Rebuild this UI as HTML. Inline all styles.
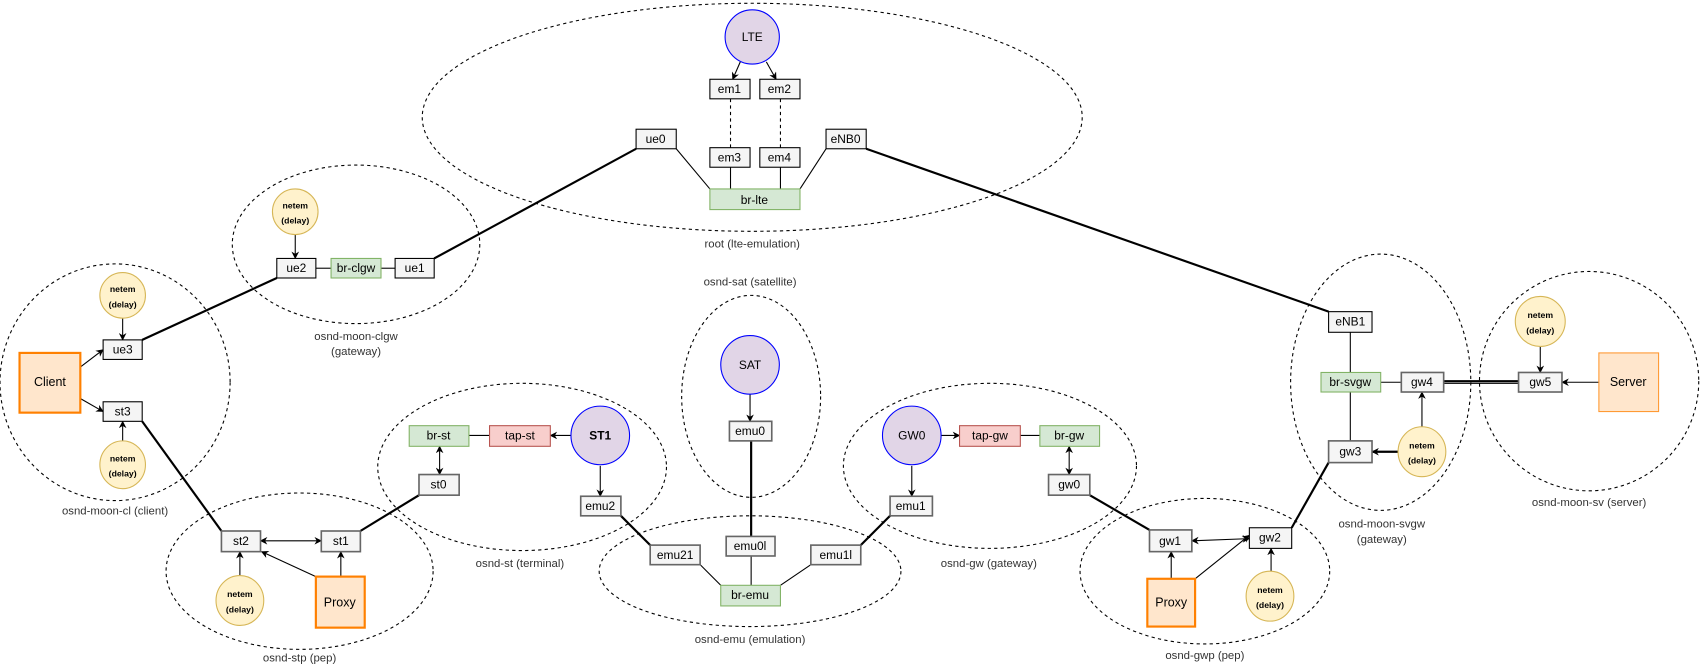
<!DOCTYPE html>
<html><head><meta charset="utf-8"><style>html,body{margin:0;padding:0;background:#fff;}svg{display:block}</style></head><body>
<svg width="1702" height="670" viewBox="0 0 1568 617" preserveAspectRatio="none" xmlns="http://www.w3.org/2000/svg" font-family="Liberation Sans, sans-serif">
<defs>
<marker id="a" viewBox="0 0 10 10" refX="9" refY="5" markerWidth="7" markerHeight="7" orient="auto-start-reverse" markerUnits="userSpaceOnUse"><path d="M0,0 L10,5 L0,10 L3,5 z" fill="#000"/></marker>
</defs>
<g fill="none" stroke="#000" stroke-dasharray="3,3" stroke-width="1">
<ellipse cx="693" cy="108" rx="304" ry="105"/>
<ellipse cx="328" cy="225" rx="114" ry="73"/>
<ellipse cx="106" cy="352" rx="106" ry="109"/>
<ellipse cx="276" cy="526" rx="123" ry="72"/>
<ellipse cx="481" cy="430" rx="133" ry="77"/>
<ellipse cx="692" cy="365" rx="64" ry="93"/>
<ellipse cx="691" cy="526" rx="139" ry="51"/>
<ellipse cx="912" cy="429" rx="135" ry="76"/>
<ellipse cx="1110" cy="526" rx="115" ry="67"/>
<ellipse cx="1272" cy="352" rx="83" ry="118"/>
<ellipse cx="1464" cy="351" rx="101" ry="101"/>
<line x1="673" y1="91" x2="673" y2="136"/><line x1="719" y1="91" x2="719" y2="136"/>
</g>
<g stroke="#000" stroke-width="2" fill="none">
<line x1="400" y1="238" x2="586" y2="137"/>
<line x1="131" y1="313" x2="255" y2="256"/>
<line x1="131" y1="388" x2="204" y2="489"/>
<line x1="386" y1="456" x2="332" y2="489"/>
<line x1="692" y1="406" x2="692" y2="494"/>
<line x1="572" y1="475" x2="599" y2="502"/>
<line x1="820" y1="475" x2="793" y2="502"/>
<line x1="1004" y1="456" x2="1059" y2="488"/>
<line x1="1190" y1="486" x2="1224" y2="426"/>
<line x1="798" y1="137" x2="1224" y2="287"/>
<line x1="1330" y1="351" x2="1399" y2="351"/>
<line x1="1330" y1="353" x2="1399" y2="353" stroke-width="1"/>
</g>
<g stroke="#000" stroke-width="1" fill="none">
<line x1="623" y1="137" x2="654" y2="174"/><line x1="761" y1="137" x2="737" y2="174"/>
<line x1="673" y1="154" x2="673" y2="174"/><line x1="719" y1="154" x2="719" y2="174"/>
<line x1="291" y1="247" x2="305" y2="247"/><line x1="351" y1="247" x2="364" y2="247"/>
<line x1="432" y1="401" x2="451" y2="401"/>
<line x1="645" y1="520" x2="664" y2="539"/><line x1="692" y1="512" x2="692" y2="539"/><line x1="747" y1="520" x2="719" y2="539"/>
<line x1="940" y1="401" x2="958" y2="401"/>
<line x1="1244" y1="306" x2="1244" y2="343"/><line x1="1244" y1="361" x2="1244" y2="406"/><line x1="1272" y1="352" x2="1291" y2="352"/>
</g>
<g stroke="#000" stroke-width="1" fill="none" marker-end="url(#a)">
<line x1="682" y1="57" x2="675" y2="73"/><line x1="706" y1="57" x2="715" y2="73"/>
<line x1="272" y1="216" x2="272" y2="238"/>
<line x1="74" y1="338" x2="95" y2="322"/><line x1="74" y1="367" x2="95" y2="379"/>
<line x1="113" y1="292" x2="113" y2="313"/><line x1="113" y1="406" x2="113" y2="388"/>
<line x1="240" y1="498" x2="296" y2="498" marker-start="url(#a)"/>
<line x1="221" y1="530" x2="221" y2="508"/><line x1="291" y1="531" x2="241" y2="508"/><line x1="314" y1="531" x2="314" y2="508"/>
<line x1="526" y1="401" x2="507" y2="401"/>
<line x1="405" y1="411" x2="405" y2="437" marker-start="url(#a)"/>
<line x1="553" y1="429" x2="553" y2="457"/>
<line x1="691" y1="363" x2="691" y2="388"/>
<line x1="867" y1="401" x2="884" y2="401"/>
<line x1="985" y1="411" x2="985" y2="437" marker-start="url(#a)"/>
<line x1="840" y1="429" x2="840" y2="457"/>
<line x1="1098" y1="498" x2="1151" y2="496" marker-start="url(#a)"/>
<line x1="1079" y1="533" x2="1079" y2="508"/><line x1="1101" y1="533" x2="1151" y2="493"/><line x1="1171" y1="526" x2="1171" y2="505"/>
<line x1="1288" y1="416" x2="1264" y2="416" stroke-width="2"/><line x1="1310" y1="393" x2="1310" y2="361"/>
<line x1="1419" y1="319" x2="1419" y2="343"/><line x1="1473" y1="352" x2="1439" y2="352"/>
</g>
<g fill="#e1d5e7" stroke="#0000ff">
<circle cx="693" cy="34" r="25"/><circle cx="691" cy="336" r="27"/><circle cx="553" cy="401" r="27"/><circle cx="840" cy="401" r="27"/>
</g>
<g fill="#fff2cc" stroke="#d6b656">
<ellipse cx="272" cy="195" rx="21" ry="21"/><ellipse cx="113" cy="272" rx="21" ry="21"/><ellipse cx="113" cy="428" rx="21" ry="22"/>
<ellipse cx="221" cy="553" rx="22" ry="23"/><ellipse cx="1170" cy="549" rx="22" ry="23"/><ellipse cx="1310" cy="416" rx="22" ry="23"/><ellipse cx="1419" cy="296" rx="23" ry="23"/>
</g>
<g fill="#f5f5f5" stroke="#000">
<rect x="654" y="73" width="37" height="18"/><rect x="700" y="73" width="37" height="18"/>
<rect x="654" y="136" width="37" height="18"/><rect x="700" y="136" width="37" height="18"/>
<rect x="586" y="119" width="37" height="18"/><rect x="761" y="119" width="37" height="18"/>
<rect x="255" y="238" width="36" height="18"/><rect x="364" y="238" width="36" height="18"/>
<rect x="95" y="313" width="36" height="18"/><rect x="95" y="370" width="36" height="18"/>
<rect x="1224" y="287" width="40" height="19"/><rect x="1151" y="486" width="39" height="19"/>
</g>
<g fill="#f5f5f5" stroke="#666" stroke-width="1.5">
<rect x="204" y="489" width="36" height="19"/><rect x="296" y="489" width="36" height="19"/>
<rect x="386" y="437" width="37" height="19"/><rect x="535" y="457" width="37" height="18"/>
<rect x="672" y="388" width="39" height="18"/><rect x="669" y="494" width="45" height="18"/>
<rect x="599" y="502" width="46" height="18"/><rect x="747" y="502" width="46" height="18"/>
<rect x="820" y="457" width="39" height="18"/><rect x="966" y="437" width="38" height="19"/>
<rect x="1059" y="488" width="39" height="20"/><rect x="1291" y="343" width="39" height="18"/>
<rect x="1224" y="406" width="40" height="20"/><rect x="1399" y="343" width="40" height="18"/>
</g>
<g fill="#d5e8d4" stroke="#82b366">
<rect x="654" y="174" width="83" height="19"/><rect x="305" y="238" width="46" height="18"/>
<rect x="377" y="392" width="55" height="19"/><rect x="664" y="539" width="55" height="19"/>
<rect x="958" y="392" width="55" height="19"/><rect x="1217" y="343" width="55" height="18"/>
</g>
<g fill="#f8cecc" stroke="#b85450">
<rect x="451" y="392" width="56" height="19"/><rect x="884" y="392" width="56" height="19"/>
</g>
<g fill="#ffe6cc" stroke="#ff8000" stroke-width="2">
<rect x="18" y="325" width="56" height="55"/><rect x="291" y="531" width="45" height="47"/><rect x="1057" y="533" width="44" height="44"/>
</g>
<rect x="1473" y="325" width="55" height="54" fill="#ffe6cc" stroke="#ff9933"/>
<g font-size="11" text-anchor="middle" fill="#000" dominant-baseline="central">
<text x="672" y="82">em1</text><text x="718" y="82">em2</text><text x="672" y="145">em3</text><text x="718" y="145">em4</text>
<text x="604" y="128">ue0</text><text x="779" y="128">eNB0</text><text x="695" y="184">br-lte</text>
<text x="273" y="247">ue2</text><text x="328" y="247">br-clgw</text><text x="382" y="247">ue1</text>
<text x="113" y="322">ue3</text><text x="113" y="379">st3</text><text x="46" y="352" font-size="11.5">Client</text>
<text x="222" y="498">st2</text><text x="314" y="498">st1</text><text x="313" y="555" font-size="11.5">Proxy</text>
<text x="404" y="401">br-st</text><text x="479" y="401">tap-st</text><text x="404" y="446">st0</text><text x="553" y="466">emu2</text>
<text x="691" y="336">SAT</text><text x="553" y="401" font-weight="bold">ST1</text><text x="693" y="34">LTE</text><text x="840" y="401">GW0</text>
<text x="691" y="397">emu0</text><text x="691" y="503">emu0l</text><text x="622" y="511">emu21</text><text x="770" y="511">emu1l</text><text x="691" y="548">br-emu</text>
<text x="912" y="401">tap-gw</text><text x="985" y="401">br-gw</text><text x="985" y="446">gw0</text><text x="839" y="466">emu1</text>
<text x="1078" y="498">gw1</text><text x="1170" y="495">gw2</text><text x="1079" y="555" font-size="11.5">Proxy</text>
<text x="1244" y="296">eNB1</text><text x="1244" y="352">br-svgw</text><text x="1310" y="352">gw4</text><text x="1244" y="416">gw3</text>
<text x="1419" y="352">gw5</text><text x="1500" y="352" font-size="11.5">Server</text>
</g>
<g font-size="8" font-weight="bold" text-anchor="middle" fill="#000">
<text x="272" y="192">netem</text><text x="272" y="206">(delay)</text>
<text x="113" y="269">netem</text><text x="113" y="283">(delay)</text>
<text x="113" y="425">netem</text><text x="113" y="439">(delay)</text>
<text x="221" y="550">netem</text><text x="221" y="564">(delay)</text>
<text x="1170" y="546">netem</text><text x="1170" y="560">(delay)</text>
<text x="1310" y="413">netem</text><text x="1310" y="427">(delay)</text>
<text x="1419" y="293">netem</text><text x="1419" y="307">(delay)</text>
</g>
<g font-size="10.5" text-anchor="middle" fill="#333">
<text x="693" y="228">root (lte-emulation)</text>
<text x="328" y="313">osnd-moon-clgw</text><text x="328" y="327">(gateway)</text>
<text x="106" y="474">osnd-moon-cl (client)</text>
<text x="276" y="609">osnd-stp (pep)</text>
<text x="479" y="522">osnd-st (terminal)</text>
<text x="691" y="263">osnd-sat (satellite)</text>
<text x="691" y="592">osnd-emu (emulation)</text>
<text x="911" y="522">osnd-gw (gateway)</text>
<text x="1110" y="607">osnd-gwp (pep)</text>
<text x="1273" y="486">osnd-moon-svgw</text><text x="1273" y="500">(gateway)</text>
<text x="1464" y="466">osnd-moon-sv (server)</text>
</g>
</svg>
</body></html>
